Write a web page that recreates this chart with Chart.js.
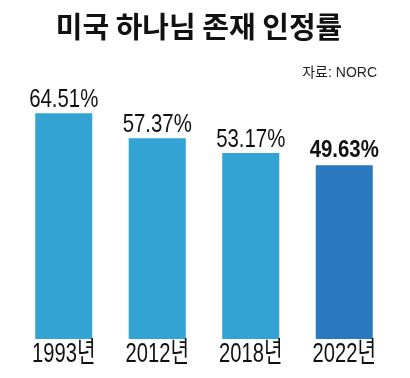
<!DOCTYPE html>
<html>
<head>
<meta charset="utf-8">
<script src="https://cdn.jsdelivr.net/npm/chart.js@4"></script>
<style>
  html, body { margin: 0; padding: 0; background: #fff; }
  #wrap { position: relative; width: 410px; height: 378px; }
</style>
</head>
<body>
<div id="wrap"><canvas id="chart"></canvas></div>
<script>
'use strict';

const chartTitle = '미국 하나님 존재 인정률';
const sourceNote = '자료: NORC';
const years = ['1993년', '2012년', '2018년', '2022년'];
const rates = [64.51, 57.37, 53.17, 49.63];
const barColors = ['#33a3d4', '#33a3d4', '#33a3d4', '#2a78bd'];

const sans = "'Liberation Sans', 'Noto Sans CJK KR', sans-serif";

// 가로로 눌린 글꼴 흉내 (condensed 글꼴이 없음)
function drawNarrow(ctx, text, x, y, sx, align) {
    ctx.save();
    ctx.translate(x, y);
    ctx.scale(sx, 1);
    ctx.textAlign = align;
    ctx.fillText(text, 0, 0);
    ctx.restore();
}

// 제목, 출처, 막대 위 수치, x축 라벨
const labelsPlugin = {
    id: 'labels',
    afterDraw(chart) {
        const ctx = chart.ctx;
        ctx.save();
        ctx.fillStyle = '#111';
        ctx.textBaseline = 'middle';
        ctx.font = "bold 29px 'Noto Sans CJK KR', sans-serif";
        drawNarrow(ctx, chartTitle, 199, 27, 1, 'center');

        ctx.font = '14px ' + sans;
        ctx.fillStyle = '#222';
        ctx.textBaseline = 'alphabetic';
        drawNarrow(ctx, sourceNote, 377, 77, 1, 'right');

        ctx.fillStyle = '#111';
        const meta = chart.getDatasetMeta(0);
        meta.data.forEach((bar, i) => {
            const last = i === rates.length - 1;
            if (last) {
                ctx.font = 'bold 24px ' + sans;
                drawNarrow(ctx, rates[i].toFixed(2) + '%', bar.x, bar.y - 8, 0.85, 'center');
            } else {
                ctx.font = '25.5px ' + sans;
                drawNarrow(ctx, rates[i].toFixed(2) + '%', bar.x, bar.y - 6, 0.8, 'center');
            }
        });

        const xs = chart.scales.x;
        ctx.font = '28px ' + sans;
        xs.ticks.forEach((t, i) => {
            drawNarrow(ctx, xs.getLabelForValue(t.value), xs.getPixelForTick(i), 362, 0.72, 'center');
        });
        ctx.restore();
    }
};

new Chart(document.getElementById('chart'), {
    type: 'bar',
    data: {
        labels: years,
        datasets: [{
            data: rates,
            backgroundColor: barColors,
            borderWidth: 0,
            categoryPercentage: 1,
            barPercentage: 0.61
        }]
    },
    options: {
        responsive: true,
        maintainAspectRatio: false,
        animation: false,
        events: [],
        layout: { padding: { left: 17, right: 19, top: 94, bottom: 0 } },
        plugins: { legend: { display: false }, tooltip: { enabled: false } },
        scales: {
            x: {
                grid: { display: false, drawTicks: false },
                border: { display: false },
                ticks: { display: false },
                afterFit: (scale) => { scale.height = 39; }
            },
            y: { display: false, min: 0, max: 70 }
        }
    },
    plugins: [labelsPlugin]
});
</script>
</body>
</html>
